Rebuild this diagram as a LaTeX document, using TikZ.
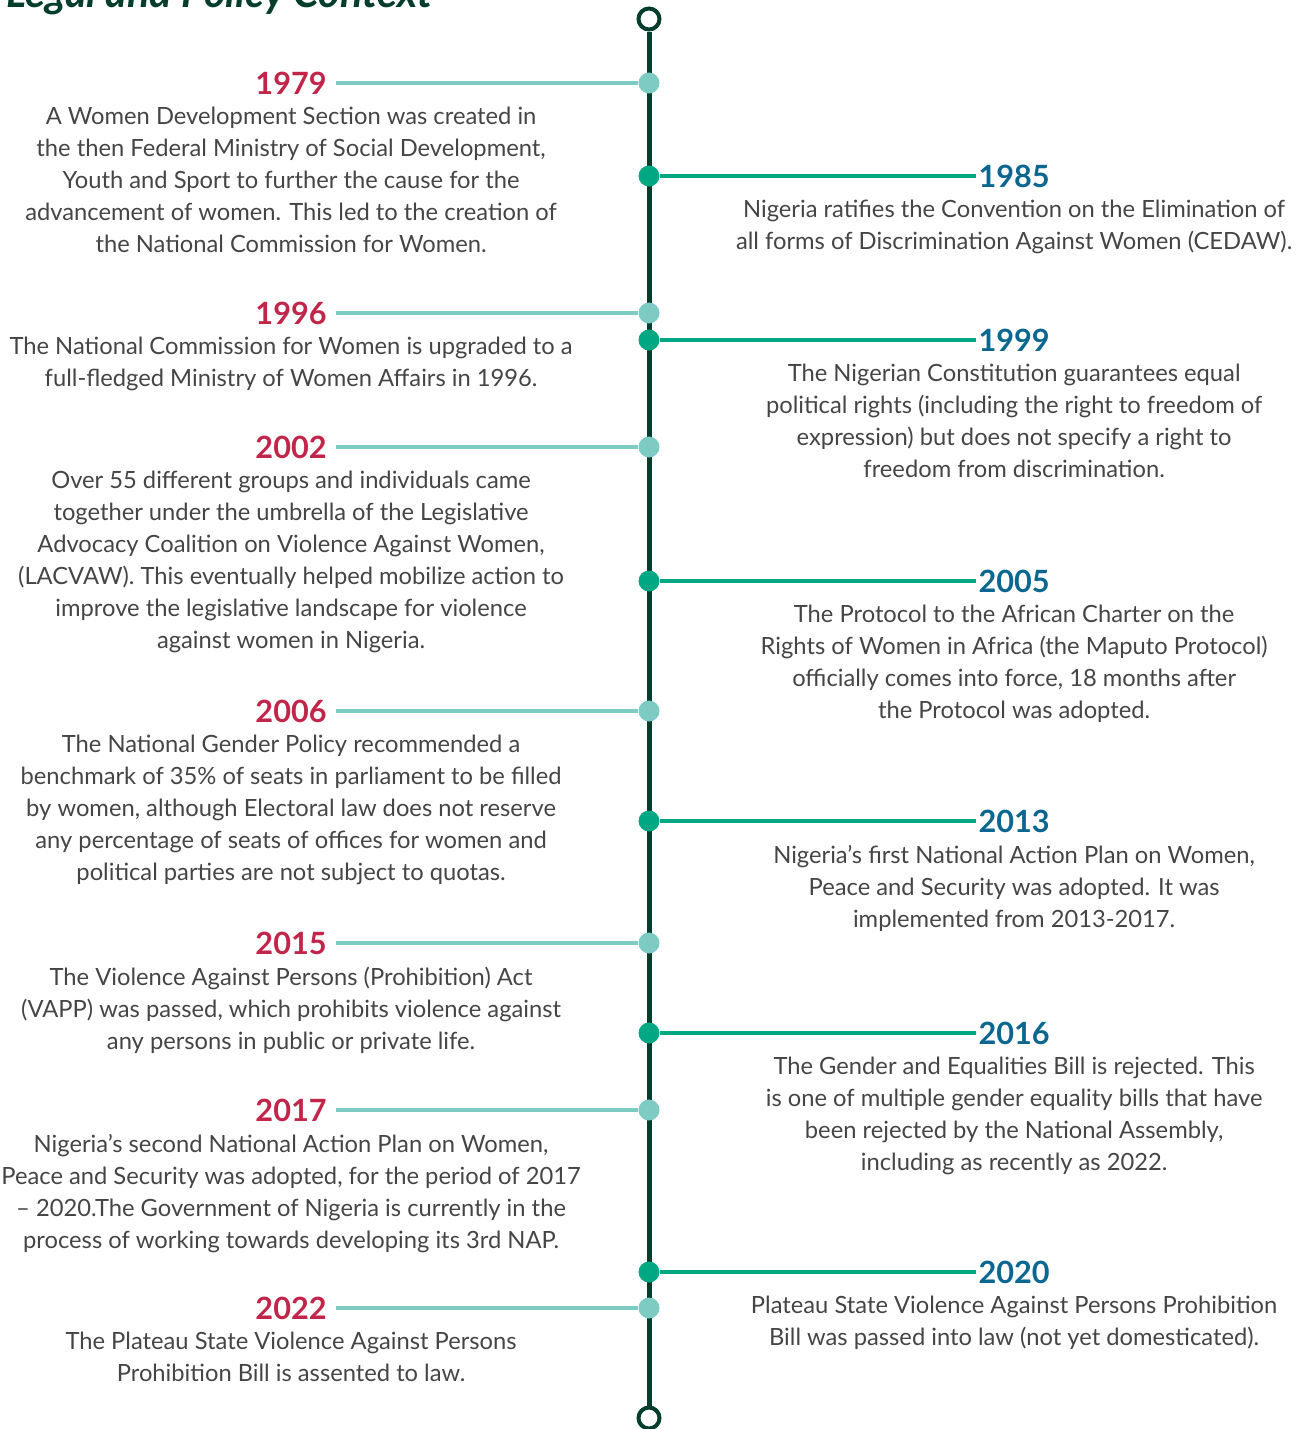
\documentclass[tikz,border=0pt]{standalone}
\usepackage{fontspec}
\setmainfont{Lato}
\usetikzlibrary{positioning}
\definecolor{spinegreen}{HTML}{033D2C}
\definecolor{yearred}{HTML}{C1264A}
\definecolor{yearblue}{HTML}{0B6690}
\definecolor{dotgreen}{HTML}{00A783}
\definecolor{lightteal}{HTML}{7DCBC3}
\definecolor{bodygray}{HTML}{454545}

\begin{document}
\begin{tikzpicture}[x=0.75pt,y=-0.75pt,
	spine/.style={draw=spinegreen,line width=3.75pt},
	endring/.style={circle,draw=spinegreen,line width=3pt,fill=white,inner sep=0pt,minimum size=15.75pt},
	leftdot/.style={circle,fill=lightteal,inner sep=0pt,minimum size=15.75pt},
	rightdot/.style={circle,fill=dotgreen,inner sep=0pt,minimum size=15.75pt},
	leftline/.style={draw=lightteal,line width=3pt},
	rightline/.style={draw=dotgreen,line width=3pt},
	leftyear/.style={text=yearred,font=\fontsize{23}{23}\selectfont\bfseries,inner xsep=7pt,inner ysep=0pt,text height=16.5pt,text depth=0pt},
	rightyear/.style={text=yearblue,font=\fontsize{23}{23}\selectfont\bfseries,inner xsep=2pt,inner ysep=0pt,text height=16.5pt,text depth=0pt},
	bodytext/.style={text=bodygray,font=\fontsize{17.8}{24}\selectfont,align=center,inner sep=0pt}]

	\useasboundingbox (0,0) rectangle (1305,1429);

	% title, cut at the top edge
	\node[anchor=base west,text=spinegreen,font=\fontsize{31}{31}\selectfont\bfseries\itshape,inner sep=0pt] (title) at (6,7) {Legal and Policy Context};

	% spine
	\node[endring] (top) at (649,19) {};
	\node[endring] (bottom) at (649,1418) {};
	\draw[spine] (top.south) -- (bottom.north);

	% left side
	\node[leftdot] (d1979) at (649,83) {};
	\node[leftyear,left=226.5pt of d1979] (y1979) {1979};
	\node[bodytext,below=9.5pt of y1979] (t1979) {A Women Development Section was created in\\the then Federal Ministry of Social Development,\\Youth and Sport to further the cause for the\\advancement of women. This led to the creation of\\the National Commission for Women.};

	\node[leftdot] (d1996) at (649,313) {};
	\node[leftyear,left=226.5pt of d1996] (y1996) {1996};
	\node[bodytext,below=9.5pt of y1996] (t1996) {The National Commission for Women is upgraded to a\\full-fledged Ministry of Women Affairs in 1996.};

	\node[leftdot] (d2002) at (649,447) {};
	\node[leftyear,left=226.5pt of d2002] (y2002) {2002};
	\node[bodytext,below=9.5pt of y2002] (t2002) {Over 55 different groups and individuals came\\together under the umbrella of the Legislative\\Advocacy Coalition on Violence Against Women,\\(LACVAW). This eventually helped mobilize action to\\improve the legislative landscape for violence\\against women in Nigeria.};

	\node[leftdot] (d2006) at (649,711) {};
	\node[leftyear,left=226.5pt of d2006] (y2006) {2006};
	\node[bodytext,below=9.5pt of y2006] (t2006) {The National Gender Policy recommended a\\benchmark of 35\% of seats in parliament to be filled\\by women, although Electoral law does not reserve\\any percentage of seats of offices for women and\\political parties are not subject to quotas.};

	\node[leftdot] (d2015) at (649,943) {};
	\node[leftyear,left=226.5pt of d2015] (y2015) {2015};
	\node[bodytext,below=9.5pt of y2015] (t2015) {The Violence Against Persons (Prohibition) Act\\(VAPP) was passed, which prohibits violence against\\any persons in public or private life.};

	\node[leftdot] (d2017) at (649,1110) {};
	\node[leftyear,left=226.5pt of d2017] (y2017) {2017};
	\node[bodytext,below=9.5pt of y2017] (t2017) {Nigeria’s second National Action Plan on Women,\\Peace and Security was adopted, for the period of 2017\\– 2020.The Government of Nigeria is currently in the\\process of working towards developing its 3rd NAP.};

	\node[leftdot] (d2022) at (649,1308) {};
	\node[leftyear,left=226.5pt of d2022] (y2022) {2022};
	\node[bodytext,below=9.5pt of y2022] (t2022) {The Plateau State Violence Against Persons\\Prohibition Bill is assented to law.};

	% right side
	\node[rightdot] (d1985) at (649,176) {};
	\node[rightyear,right=236.9pt of d1985] (y1985) {1985};
	\node[bodytext,below=9.5pt of y1985] (t1985) {Nigeria ratifies the Convention on the Elimination of\\all forms of Discrimination Against Women (CEDAW).};

	\node[rightdot] (d1999) at (649,340) {};
	\node[rightyear,right=236.9pt of d1999] (y1999) {1999};
	\node[bodytext,below=9.5pt of y1999] (t1999) {The Nigerian Constitution guarantees equal\\political rights (including the right to freedom of\\expression) but does not specify a right to\\freedom from discrimination.};

	\node[rightdot] (d2005) at (649,581) {};
	\node[rightyear,right=236.9pt of d2005] (y2005) {2005};
	\node[bodytext,below=9.5pt of y2005] (t2005) {The Protocol to the African Charter on the\\Rights of Women in Africa (the Maputo Protocol)\\officially comes into force, 18 months after\\the Protocol was adopted.};

	\node[rightdot] (d2013) at (649,821) {};
	\node[rightyear,right=236.9pt of d2013] (y2013) {2013};
	\node[bodytext,below=9.5pt of y2013] (t2013) {Nigeria’s first National Action Plan on Women,\\Peace and Security was adopted. It was\\implemented from 2013-2017.};

	\node[rightdot] (d2016) at (649,1033) {};
	\node[rightyear,right=236.9pt of d2016] (y2016) {2016};
	\node[bodytext,below=9.5pt of y2016] (t2016) {The Gender and Equalities Bill is rejected. This\\is one of multiple gender equality bills that have\\been rejected by the National Assembly,\\including as recently as 2022.};

	\node[rightdot] (d2020) at (649,1272) {};
	\node[rightyear,right=236.9pt of d2020] (y2020) {2020};
	\node[bodytext,below=9.5pt of y2020] (t2020) {Plateau State Violence Against Persons Prohibition\\Bill was passed into law (not yet domesticated).};

	% connectors
	\draw[leftline] (y1979) -- (d1979);
	\draw[leftline] (y1996) -- (d1996);
	\draw[leftline] (y2002) -- (d2002);
	\draw[leftline] (y2006) -- (d2006);
	\draw[leftline] (y2015) -- (d2015);
	\draw[leftline] (y2017) -- (d2017);
	\draw[leftline] (y2022) -- (d2022);
	\draw[rightline] (d1985) -- (y1985);
	\draw[rightline] (d1999) -- (y1999);
	\draw[rightline] (d2005) -- (y2005);
	\draw[rightline] (d2013) -- (y2013);
	\draw[rightline] (d2016) -- (y2016);
	\draw[rightline] (d2020) -- (y2020);
\end{tikzpicture}
\end{document}
